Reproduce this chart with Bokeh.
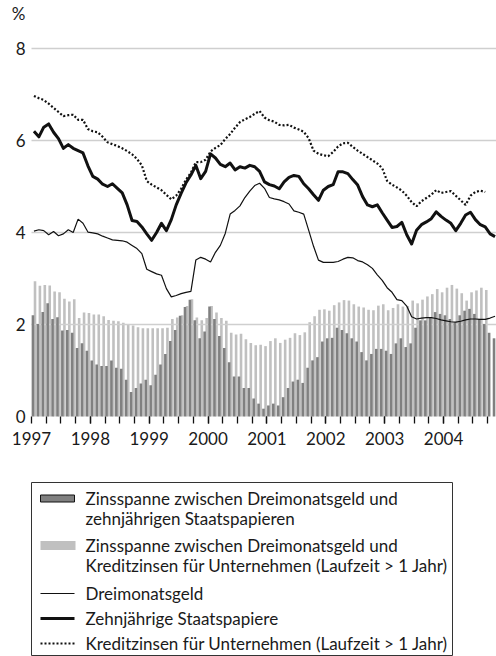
from bokeh.plotting import figure
from bokeh.models import Range1d, FixedTicker, ColumnDataSource
from bokeh.embed import file_html
from bokeh.resources import INLINE
from bokeh.core.properties import value

FONT = "Lato"
TXT = "#1a1a1a"
DARK = "#808080"
LIGHT = "#c0c0c0"
GRID = "#cfcfcf"

# ---------------- data (monthly, Jan 1997 - Nov 2004) ----------------
year_labels = ["1997", "1998", "1999", "2000", "2001", "2002", "2003", "2004"]
y_ticks = [0, 2, 4, 6, 8]
unit_label = "%"

dreimonatsgeld = [
    4.03, 4.06, 4.04, 3.95, 4.02, 3.93, 3.97, 4.06, 4.00, 4.29,
    4.20, 4.01, 3.99, 3.97, 3.92, 3.88, 3.84, 3.83, 3.82, 3.79,
    3.72, 3.65, 3.54, 3.20, 3.15, 3.10, 3.07, 2.78, 2.60, 2.63,
    2.67, 2.70, 2.72, 3.40, 3.46, 3.42, 3.36, 3.57, 3.72, 3.98,
    4.40, 4.48, 4.58, 4.76, 4.90, 5.02, 5.07, 4.96, 4.76, 4.73,
    4.71, 4.67, 4.62, 4.47, 4.44, 4.40, 4.05, 3.70, 3.40, 3.35,
    3.35, 3.35, 3.37, 3.42, 3.46, 3.45, 3.39, 3.36, 3.30, 3.22,
    3.08, 2.96, 2.80, 2.70, 2.54, 2.52, 2.40, 2.17, 2.12, 2.14,
    2.15, 2.15, 2.13, 2.10, 2.08, 2.06, 2.05, 2.07, 2.10, 2.12,
    2.12, 2.11, 2.11, 2.14, 2.18,
]

zehnjaehrige_staatspapiere = [
    6.20, 6.08, 6.29, 6.36, 6.18, 6.04, 5.83, 5.91, 5.83, 5.78,
    5.73, 5.45, 5.22, 5.16, 5.05, 5.00, 5.06, 4.96, 4.86, 4.60,
    4.26, 4.24, 4.12, 3.97, 3.83, 4.00, 4.20, 4.04, 4.28, 4.60,
    4.85, 5.08, 5.25, 5.46, 5.17, 5.33, 5.71, 5.62, 5.48, 5.43,
    5.51, 5.36, 5.43, 5.40, 5.46, 5.43, 5.33, 5.10, 5.04, 5.01,
    4.95, 5.10, 5.20, 5.24, 5.22, 5.06, 4.95, 4.82, 4.70, 4.92,
    5.00, 5.04, 5.32, 5.32, 5.28, 5.15, 5.03, 4.78, 4.60, 4.56,
    4.60, 4.43, 4.27, 4.11, 4.13, 4.22, 3.95, 3.75, 4.05, 4.17,
    4.23, 4.30, 4.45, 4.35, 4.27, 4.20, 4.04, 4.20, 4.38, 4.44,
    4.28, 4.17, 4.12, 3.97, 3.91,
]

kreditzinsen_unternehmen = [
    6.97, 6.92, 6.88, 6.80, 6.71, 6.62, 6.53, 6.55, 6.56, 6.45,
    6.45, 6.25, 6.20, 6.18, 6.08, 5.96, 5.92, 5.88, 5.83, 5.77,
    5.70, 5.60, 5.46, 5.12, 5.04, 4.98, 4.92, 4.82, 4.72, 4.80,
    4.95, 5.15, 5.30, 5.53, 5.53, 5.58, 5.76, 5.84, 5.90, 6.03,
    6.14, 6.28, 6.40, 6.46, 6.51, 6.58, 6.64, 6.50, 6.44, 6.41,
    6.34, 6.33, 6.34, 6.28, 6.24, 6.19, 6.05, 5.78, 5.71, 5.68,
    5.66, 5.75, 5.87, 5.94, 5.95, 5.86, 5.78, 5.71, 5.64, 5.57,
    5.50, 5.40, 5.12, 5.04, 4.98, 4.91, 4.80, 4.66, 4.57, 4.68,
    4.75, 4.82, 4.92, 4.86, 4.88, 4.90, 4.80, 4.70, 4.60, 4.80,
    4.88, 4.91, 4.88,
]

spanne_staatspapiere = [
    2.20, 2.01, 2.27, 2.46, 2.12, 2.16, 1.87, 1.88, 1.82, 1.49,
    1.59, 1.43, 1.22, 1.13, 1.10, 1.10, 1.22, 1.06, 1.04, 0.80,
    0.53, 0.62, 0.72, 0.80, 0.68, 0.91, 1.13, 1.36, 1.64, 1.88,
    2.19, 2.38, 2.54, 2.09, 1.70, 1.85, 2.39, 2.12, 1.75, 1.49,
    1.18, 0.87, 0.87, 0.62, 0.62, 0.39, 0.28, 0.17, 0.24, 0.28,
    0.24, 0.42, 0.62, 0.76, 0.80, 0.73, 1.06, 1.22, 1.29, 1.63,
    1.70, 1.71, 1.93, 1.88, 1.81, 1.70, 1.63, 1.40, 1.22, 1.36,
    1.47, 1.47, 1.43, 1.36, 1.59, 1.70, 1.51, 1.59, 1.93, 2.09,
    2.09, 2.16, 2.27, 2.23, 2.20, 2.12, 2.05, 2.20, 2.30, 2.34,
    2.23, 2.12, 2.01, 1.82, 1.70,
]

spanne_kreditzinsen = [
    2.94, 2.84, 2.86, 2.85, 2.72, 2.70, 2.56, 2.50, 2.55, 2.14,
    2.26, 2.25, 2.22, 2.22, 2.18, 2.10, 2.08, 2.07, 2.04, 2.00,
    1.98, 1.94, 1.92, 1.92, 1.92, 1.92, 1.92, 1.93, 2.12, 2.15,
    2.20, 2.40, 2.55, 2.15, 2.09, 2.14, 2.40, 2.26, 2.14, 2.08,
    1.82, 1.78, 1.80, 1.68, 1.60, 1.55, 1.56, 1.53, 1.64, 1.70,
    1.60, 1.67, 1.71, 1.81, 1.77, 1.83, 2.05, 2.18, 2.32, 2.33,
    2.30, 2.42, 2.48, 2.53, 2.52, 2.44, 2.39, 2.37, 2.32, 2.31,
    2.41, 2.44, 2.31, 2.36, 2.44, 2.39, 2.40, 2.52, 2.46, 2.54,
    2.61, 2.66, 2.77, 2.70, 2.80, 2.86, 2.78, 2.68, 2.52, 2.70,
    2.74, 2.80, 2.75,
]

legend_labels = [
    ["Zinsspanne zwischen Dreimonatsgeld und", "zehnjährigen Staatspapieren"],
    ["Zinsspanne zwischen Dreimonatsgeld und",
     "Kreditzinsen für Unternehmen (Laufzeit > 1 Jahr)"],
    ["Dreimonatsgeld"],
    ["Zehnjährige Staatspapiere"],
    ["Kreditzinsen für Unternehmen (Laufzeit > 1 Jahr)"],
]

# ---------------- geometry ----------------
W, H = 496, 656
PLOT_LEFT = 31           # canvas px where Jan 1997 starts
ZERO_PX = 416            # canvas px of value 0
PX_PER_UNIT = 46.0
X_END = 94.8             # months visible
PX_PER_MONTH = (W - PLOT_LEFT) / X_END


def cx(px):   # canvas px -> month coordinate
    return (px - PLOT_LEFT) / PX_PER_MONTH


def cy(py):   # canvas px -> value coordinate
    return (ZERO_PX - py) / PX_PER_UNIT


p = figure(width=W, height=H, output_backend="svg", toolbar_location=None,
           title=None,
           x_range=Range1d(cx(0), X_END), y_range=Range1d(cy(H), cy(0)),
           min_border=0)
p.outline_line_color = None
p.background_fill_color = "white"
p.border_fill_color = "white"

n_total = len(dreimonatsgeld)
m_all = list(range(n_total))
m_kredit = list(range(len(kreditzinsen_unternehmen)))

# light bars (behind)
p.vbar(x=[m + 0.715 for m in m_kredit], width=0.53, top=spanne_kreditzinsen,
       bottom=0, fill_color=LIGHT, line_color=None)

# horizontal grid lines from the chart's left edge to the right
grid_vals = [t for t in y_ticks if t > 0]
p.segment(x0=[0] * len(grid_vals), x1=[X_END] * len(grid_vals),
          y0=grid_vals, y1=grid_vals, line_color=GRID, line_width=1.5)

# dark bars (front)
p.vbar(x=[m + 0.295 for m in m_all], width=0.53, top=spanne_staatspapiere,
       bottom=0, fill_color=DARK, line_color=None)

# lines
xc = [m + 0.5 for m in m_all]
xk = [m + 0.5 for m in m_kredit]
p.line(xc, dreimonatsgeld, line_color="#111111", line_width=1.2)
p.line(xc, zehnjaehrige_staatspapiere, line_color="#111111", line_width=3,
       line_join="round")
p.line(xk, kreditzinsen_unternehmen, line_color="#111111", line_width=2.2,
       line_dash="2 2")

# x axis drawn at value 0
xa = p.xaxis[0]
xa.fixed_location = 0
xa.ticker = FixedTicker(ticks=[12 * k for k in range(len(year_labels))],
                        minor_ticks=[3 * k for k in range(1, 32)])
xa.major_label_overrides = {12 * k: lab for k, lab in enumerate(year_labels)}
xa.axis_line_color = None
xa.major_tick_line_color = "#111111"
xa.minor_tick_line_color = "#111111"
xa.major_tick_line_width = 1.3
xa.minor_tick_line_width = 1.3
xa.major_tick_out = 7
xa.major_tick_in = 0
xa.minor_tick_out = 7
xa.minor_tick_in = 0
xa.major_label_standoff = 8
xa.major_label_text_font = FONT
xa.major_label_text_font_size = "17px"
xa.major_label_text_color = TXT

# y axis drawn at Jan 1997; the unit label sits above the top tick
unit_pos = cy(12.5)
ya = p.yaxis[0]
ya.fixed_location = 0
ya.ticker = FixedTicker(ticks=y_ticks + [unit_pos])
ya.major_label_overrides = {unit_pos: unit_label}
ya.axis_line_color = None
ya.major_tick_line_color = None
ya.minor_tick_line_color = None
ya.major_tick_out = 0
ya.major_tick_in = 0
ya.major_label_standoff = 6
ya.major_label_text_font = FONT
ya.major_label_text_font_size = "17px"
ya.major_label_text_color = TXT

p.grid.visible = False

# ---------------- legend (below the chart, inside the canvas) ----------------
p.quad(left=[cx(31)], right=[cx(452)], top=[cy(482)], bottom=[cy(655)],
       fill_color=None, line_color="#333333", line_width=1)

row_y = [[498, 518], [545, 565], [593], [618], [643]]
sw_l, sw_r, tx = 40, 74, 85

p.quad(left=[cx(sw_l)], right=[cx(sw_r)], top=[cy(row_y[0][0] - 3.5)],
       bottom=[cy(row_y[0][0] + 3.5)], fill_color=DARK, line_color="#111111",
       line_width=1)
p.quad(left=[cx(sw_l)], right=[cx(sw_r + 1)], top=[cy(row_y[1][0] - 4.5)],
       bottom=[cy(row_y[1][0] + 4.5)], fill_color=LIGHT, line_color=None)
p.line([cx(sw_l), cx(sw_r)], [cy(row_y[2][0])] * 2, line_color="#111111",
       line_width=1.2)
p.line([cx(sw_l), cx(sw_r)], [cy(row_y[3][0])] * 2, line_color="#111111",
       line_width=3)
p.line([cx(sw_l), cx(sw_r)], [cy(row_y[4][0])] * 2, line_color="#111111",
       line_width=2.2, line_dash="2 2")

tys, tts = [], []
for ys, labs in zip(row_y, legend_labels):
    for yy, t in zip(ys, labs):
        tys.append(cy(yy))
        tts.append(t)
src = ColumnDataSource(dict(x=[cx(tx)] * len(tts), y=tys, t=tts))
p.text(x="x", y="y", text="t", source=src, text_font=value(FONT),
       text_font_size="17px", text_color=TXT, text_align="left",
       text_baseline="middle")

open("out.html", "w").write(file_html(p, INLINE))
